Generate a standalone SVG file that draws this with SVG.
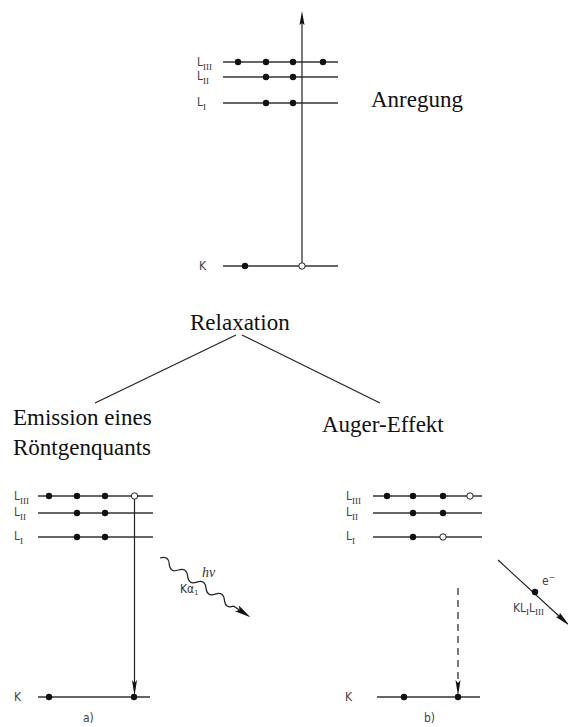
<svg xmlns="http://www.w3.org/2000/svg" width="568" height="727" viewBox="0 0 568 727">
<defs>
<style>
.lv{stroke:#333;stroke-width:1.3;fill:none}
.ln{stroke:#222;stroke-width:1.2;fill:none}
.dot{fill:#111}
.hole{fill:#fff;stroke:#222;stroke-width:1}
.lab{font-family:"DejaVu Sans Condensed","DejaVu Sans","Liberation Sans",sans-serif;font-size:12px;fill:#444}
.sub{font-family:"Liberation Serif",serif;font-size:9px;fill:#333}
.big{font-family:"Liberation Serif","Times New Roman",serif;font-size:23px;fill:#111}
.ah{fill:#111}
</style>
</defs>
<rect width="568" height="727" fill="#fff"/>

<g id="top-diagram">
  <line class="lv" x1="223" y1="62" x2="338" y2="62"/>
  <line class="lv" x1="223" y1="77" x2="338" y2="77"/>
  <line class="lv" x1="223" y1="103" x2="338" y2="103"/>
  <line class="lv" x1="223" y1="266" x2="338" y2="266"/>
  <text class="lab" x="197" y="66">L<tspan class="sub" dy="4">III</tspan></text>
  <text class="lab" x="197" y="80">L<tspan class="sub" dy="4">II</tspan></text>
  <text class="lab" x="197" y="106">L<tspan class="sub" dy="4">I</tspan></text>
  <text class="lab" x="199" y="270">K</text>
  <circle class="dot" cx="238" cy="62" r="3.2"/>
  <circle class="dot" cx="266" cy="62" r="3.2"/>
  <circle class="dot" cx="293" cy="62" r="3.2"/>
  <circle class="dot" cx="323" cy="62" r="3.2"/>
  <circle class="dot" cx="266" cy="77" r="3.2"/>
  <circle class="dot" cx="293" cy="77" r="3.2"/>
  <circle class="dot" cx="266" cy="103" r="3.2"/>
  <circle class="dot" cx="293" cy="103" r="3.2"/>
  <circle class="dot" cx="245" cy="266" r="3.2"/>
</g>

<g id="excitation-arrow">
  <line class="ln" x1="302" y1="263" x2="302" y2="22"/>
  <polygon class="ah" points="302,11 299.5,25 302,23 304.5,25"/>
  <circle class="hole" cx="302" cy="266" r="3.2"/>
</g>

<g id="anregung"><text class="big" x="371" y="107">Anregung</text></g>
<g id="relaxation"><text class="big" x="190" y="330">Relaxation</text></g>

<g id="connectors">
  <line class="ln" x1="236" y1="335" x2="95" y2="403"/>
  <line class="ln" x1="242" y1="335" x2="380" y2="403"/>
</g>

<g id="emission-title">
  <text class="big" x="13" y="425">Emission eines</text>
  <text class="big" x="13" y="455">Röntgenquants</text>
</g>
<g id="auger-title"><text class="big" x="322" y="432">Auger-Effekt</text></g>

<g id="diagram-a">
  <line class="lv" x1="38" y1="496" x2="153" y2="496"/>
  <line class="lv" x1="38" y1="513" x2="153" y2="513"/>
  <line class="lv" x1="38" y1="537" x2="153" y2="537"/>
  <line class="lv" x1="38" y1="697" x2="150" y2="697"/>
  <text class="lab" x="14" y="500">L<tspan class="sub" dy="4">III</tspan></text>
  <text class="lab" x="14" y="516">L<tspan class="sub" dy="4">II</tspan></text>
  <text class="lab" x="14" y="540">L<tspan class="sub" dy="4">I</tspan></text>
  <text class="lab" x="14" y="701">K</text>
  <circle class="dot" cx="49" cy="496" r="3.2"/>
  <circle class="dot" cx="77" cy="496" r="3.2"/>
  <circle class="dot" cx="105" cy="496" r="3.2"/>
  <circle class="dot" cx="77" cy="513" r="3.2"/>
  <circle class="dot" cx="105" cy="513" r="3.2"/>
  <circle class="dot" cx="77" cy="537" r="3.2"/>
  <circle class="dot" cx="105" cy="537" r="3.2"/>
  <line class="ln" x1="134.5" y1="499" x2="134.5" y2="684"/>
  <polygon class="ah" points="134.5,696 132,680 134.5,683 137,680"/>
  <circle class="hole" cx="134.5" cy="496" r="3.2"/>
  <circle class="dot" cx="49" cy="697" r="3.2"/>
  <circle class="dot" cx="134" cy="697" r="3.2"/>
  <text class="lab" x="83" y="722">a)</text>
</g>

<g id="photon">
  <g transform="translate(160,558) rotate(33.2)">
    <path class="ln" d="M0 0 q5.5 -7 11 0 t11 0 t11 0 t11 0 t11 0 t11 0 t11 0 t11 0 L95 0"/>
    <polygon class="ah" points="108,0 92,-3.5 95,0 92,3.5"/>
  </g>
  <text x="202" y="577" style="font-family:'Liberation Serif',serif;font-size:14px;font-style:italic;fill:#333">hν</text>
  <text x="180" y="593" style="font-family:'DejaVu Sans Condensed','DejaVu Sans',sans-serif;font-size:12px;fill:#333">Kα<tspan font-size="7" dy="2">1</tspan></text>
</g>

<g id="diagram-b">
  <line class="lv" x1="373" y1="496" x2="482" y2="496"/>
  <line class="lv" x1="373" y1="513" x2="482" y2="513"/>
  <line class="lv" x1="373" y1="537" x2="482" y2="537"/>
  <line class="lv" x1="377" y1="697" x2="480" y2="697"/>
  <text class="lab" x="346" y="500">L<tspan class="sub" dy="4">III</tspan></text>
  <text class="lab" x="346" y="516">L<tspan class="sub" dy="4">II</tspan></text>
  <text class="lab" x="346" y="540">L<tspan class="sub" dy="4">I</tspan></text>
  <text class="lab" x="345" y="701">K</text>
  <circle class="dot" cx="387" cy="496" r="3.2"/>
  <circle class="dot" cx="413" cy="496" r="3.2"/>
  <circle class="dot" cx="443" cy="496" r="3.2"/>
  <circle class="hole" cx="470" cy="496" r="3.2"/>
  <circle class="dot" cx="413" cy="513" r="3.2"/>
  <circle class="dot" cx="443" cy="513" r="3.2"/>
  <circle class="dot" cx="413" cy="537" r="3.2"/>
  <circle class="hole" cx="443" cy="537" r="3.2"/>
  <line class="ln" x1="458" y1="588" x2="458" y2="684" stroke-dasharray="7,5"/>
  <polygon class="ah" points="458,696 455.5,680 458,683 460.5,680"/>
  <circle class="dot" cx="404" cy="697" r="3.2"/>
  <circle class="dot" cx="458" cy="697" r="3.2"/>
  <text class="lab" x="424" y="722">b)</text>
</g>

<g id="auger-electron">
  <line class="ln" x1="498" y1="560" x2="560" y2="617"/>
  <polygon class="ah" points="570,626 556,617 559,616 560,613"/>
  <circle class="dot" cx="535" cy="592" r="3.2"/>
  <text class="lab" x="542" y="585">e<tspan font-size="8" dy="-5">−</tspan></text>
  <text class="lab" x="513" y="612">KL<tspan class="sub" dy="3">I</tspan><tspan dy="-3">L</tspan><tspan class="sub" dy="3">III</tspan></text>
</g>
</svg>
